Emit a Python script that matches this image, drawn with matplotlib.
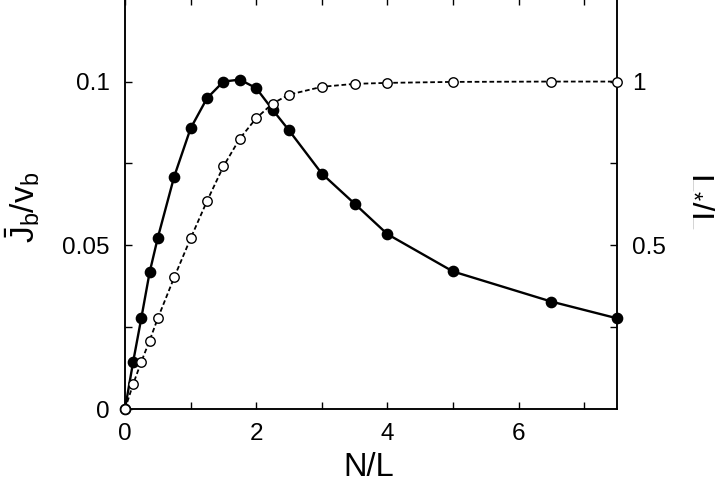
import matplotlib
matplotlib.use('Agg')
import matplotlib.pyplot as plt

plt.rcParams.update({
    'font.family': 'Liberation Sans',
    'mathtext.fontset': 'custom',
    'mathtext.rm': 'Liberation Sans',
    'mathtext.it': 'Liberation Sans',
    'mathtext.bf': 'Liberation Sans',
})

# N/L values and the two measured quantities
nl_j = [0.0, 0.125, 0.25, 0.375, 0.5, 0.75, 1.0, 1.25, 1.5, 1.75, 2.0, 2.25,
        2.5, 3.0, 3.5, 4.0, 5.0, 6.5, 7.5]
j_over_v = [0.0, 0.0145, 0.0279, 0.0417, 0.0523, 0.0710, 0.0857, 0.0949, 0.1000,
            0.1006, 0.0980, 0.0914, 0.0851, 0.0719, 0.0627, 0.0534, 0.0420,
            0.0328, 0.0277]

nl_l = [0.0, 0.125, 0.25, 0.375, 0.5, 0.75, 1.0, 1.25, 1.5, 1.75, 2.0, 2.25,
        2.5, 3.0, 3.5, 4.0, 5.0, 6.5, 7.5]
lstar_over_l = [0.0, 0.0765, 0.145, 0.209, 0.277, 0.402, 0.521, 0.635, 0.741,
                0.826, 0.888, 0.933, 0.960, 0.984, 0.993, 0.996, 0.999, 1.0, 1.0]

x_ticks = [0, 1, 2, 3, 4, 5, 6, 7]
x_labels = ['0', '', '2', '', '4', '', '6', '']
yl_ticks = [0, 0.025, 0.05, 0.075, 0.1]
yl_labels = ['0', '', '0.05', '', '0.1']
yr_ticks = [0.25, 0.5, 0.75, 1.0]
yr_labels = ['', '0.5', '', '1']

fig = plt.figure(figsize=(7.2, 4.82), dpi=100)
ax = fig.add_axes([125/720, 1-409/482, 492/720, 409/482 + 0.004])
ax2 = ax.twinx()

ax.plot(nl_j, j_over_v, color='black', lw=1.7, marker='o', ms=7.4,
        mfc='black', mec='black', zorder=3, clip_on=False)
ax2.plot(nl_l, lstar_over_l, color='black', lw=1.3, dashes=(2.6, 1.5),
         marker='o', ms=6.8, mfc='white', mec='black', mew=1.0, zorder=4,
         clip_on=False)

ax.set_xlim(0, 7.5)
ax.set_ylim(0, 0.1255)
ax2.set_ylim(0, 1.255)

ax.set_xticks(x_ticks)
ax.set_xticklabels(x_labels)
ax.set_yticks(yl_ticks)
ax.set_yticklabels(yl_labels)
ax2.set_yticks(yr_ticks)
ax2.set_yticklabels(yr_labels)

ax.tick_params(axis='both', direction='in', length=5, width=1.0,
               labelsize=17.5, top=True, right=False)
ax.tick_params(axis='y', pad=11)
ax.tick_params(axis='x', pad=10)
ax2.tick_params(axis='y', direction='in', length=5, width=1.0,
                labelsize=17.5, pad=11)

for a in (ax, ax2):
    for s in a.spines.values():
        s.set_linewidth(1.1)

fig.text(0.5125, 1-468/482, 'N/L', ha='center', va='center', fontsize=23.5)
fig.text(42/720, 1-207/482, r'$\bar{\mathrm{J}}_{\mathrm{b}}/\mathrm{v}_{\mathrm{b}}$',
         rotation=90, ha='right', va='center', fontsize=24)
fig.text(688/720, 1-201/482, r'L$_{*}$/L', rotation=270, ha='left',
         va='center', fontsize=24)

fig.savefig('out.png', dpi=100)
